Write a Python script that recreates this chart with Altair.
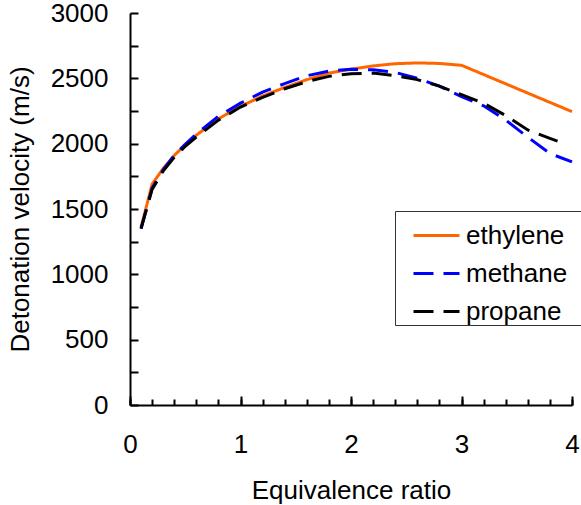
import altair as alt
import pandas as pd

# Equivalence ratio sample points
phi_ethylene = [0.1, 0.2, 0.3, 0.4, 0.5, 0.6, 0.8, 1.0, 1.2, 1.4, 1.6, 1.8, 2.0, 2.2, 2.4, 2.6, 2.8, 3.0, 4.0]
v_ethylene = [1360, 1690, 1810, 1910, 1990, 2065, 2190, 2285, 2365, 2430, 2490, 2540, 2570, 2595, 2612, 2618, 2614, 2600, 2245]

phi_methane = [0.1, 0.2, 0.3, 0.4, 0.5, 0.6, 0.8, 1.0, 1.2, 1.4, 1.6, 1.8, 2.0, 2.2, 2.4, 2.6, 2.8, 3.0, 3.2, 3.4, 3.6, 3.8, 4.0]
v_methane = [1350, 1660, 1800, 1910, 1995, 2075, 2210, 2310, 2395, 2460, 2520, 2555, 2570, 2565, 2545, 2500, 2440, 2360, 2290, 2180, 2050, 1925, 1860]

phi_propane = [0.1, 0.2, 0.3, 0.4, 0.5, 0.6, 0.8, 1.0, 1.2, 1.4, 1.6, 1.8, 2.0, 2.2, 2.4, 2.6, 2.8, 3.0, 3.2, 3.4, 3.6, 3.8, 3.9]
v_propane = [1350, 1650, 1790, 1895, 1980, 2050, 2180, 2280, 2355, 2420, 2475, 2515, 2535, 2540, 2520, 2490, 2440, 2375, 2310, 2215, 2105, 2040, 2010]

fuels = ["ethylene", "methane", "propane"]
colors = ["#FF6600", "#0000FF", "#000000"]
dashes = [[1, 0], [20, 10], [20, 10]]

y_ticks = list(range(0, 3001, 500))
y_minor = list(range(0, 3001, 250))
x_major = [0, 1, 2, 3, 4]
x_minor = [round(i * 0.2, 1) for i in range(21)]

rows = []
for name, xs, vs in [("ethylene", phi_ethylene, v_ethylene),
                     ("methane", phi_methane, v_methane),
                     ("propane", phi_propane, v_propane)]:
    for i, (p, v) in enumerate(zip(xs, vs)):
        rows.append({"phi": p, "v": v, "fuel": name, "order": i})
df = pd.DataFrame(rows)

W, H = 442, 392
FONT = "Liberation Sans"
FS = 26

xscale = alt.Scale(domain=[0, 4], nice=False)
yscale = alt.Scale(domain=[0, 3000], nice=False)

# blank (non-whitespace) padding so the legend frame runs past the right edge
PAD = "\u2800" * 8

legend_kw = dict(
    title=None, orient="none", legendX=265, legendY=198,
    symbolType="stroke", symbolSize=2116, symbolStrokeWidth=3,
    symbolOffset=17, labelFontSize=FS, labelFont=FONT, labelColor="black",
    labelOffset=5, padding=0, rowPadding=-3,
    labelExpr="datum.label + '" + PAD + "'",
    labelLimit=400,
    strokeColor="#333333", fillColor="white",
)

lines = alt.Chart(df).mark_line(strokeWidth=3).encode(
    x=alt.X("phi:Q", scale=xscale,
            axis=alt.Axis(title="Equivalence ratio", values=x_major, format="d",
                          ticks=False, tickSize=0, labelPadding=26, titlePadding=20,
                          labelFlush=False,
                          grid=False, domainColor="black", domainWidth=2)),
    y=alt.Y("v:Q", scale=yscale,
            axis=alt.Axis(title="Detonation velocity (m/s)", values=y_ticks, format="d",
                          ticks=False, tickSize=0, labelPadding=22, titlePadding=17,
                          labelFlush=False,
                          grid=False, domainColor="black", domainWidth=2)),
    color=alt.Color("fuel:N", scale=alt.Scale(domain=fuels, range=colors),
                    legend=alt.Legend(**legend_kw)),
    strokeDash=alt.StrokeDash("fuel:N", scale=alt.Scale(domain=fuels, range=dashes),
                              legend=alt.Legend(**legend_kw)),
    order="order:Q",
)

ytick_layer = alt.Chart(df).mark_point(opacity=0).encode(
    x=alt.X("phi:Q", scale=xscale, axis=None),
    y=alt.Y("v:Q", scale=yscale,
            axis=alt.Axis(orient="right", offset=-W, values=y_minor, labels=False,
                          domain=False, tickSize=8, tickWidth=2, tickColor="black",
                          title=None, grid=False)),
)

xminor_layer = alt.Chart(df).mark_point(opacity=0).encode(
    x=alt.X("phi:Q", scale=xscale,
            axis=alt.Axis(orient="top", offset=-H, values=x_minor, labels=False,
                          domain=False, tickSize=6, tickWidth=2, tickColor="black",
                          title=None, grid=False)),
    y=alt.Y("v:Q", scale=yscale, axis=None),
)

xmajor_layer = alt.Chart(df).mark_point(opacity=0).encode(
    x=alt.X("phi:Q", scale=xscale,
            axis=alt.Axis(orient="top", offset=-H, values=x_major, labels=False,
                          domain=False, tickSize=9, tickWidth=2, tickColor="black",
                          title=None, grid=False)),
    y=alt.Y("v:Q", scale=yscale, axis=None),
)

chart = alt.layer(lines, ytick_layer, xminor_layer, xmajor_layer).resolve_axis(
    x="independent", y="independent"
).properties(
    width=W, height=H,
    autosize=alt.AutoSizeParams(type="none"),
    padding={"left": 130, "top": 13, "right": 9, "bottom": 100},
).configure_view(
    stroke=None
).configure_axis(
    labelFont=FONT, titleFont=FONT, labelFontSize=FS, titleFontSize=FS,
    labelColor="black", titleColor="black", titleFontWeight="normal",
)

chart.save("out.html", embed_options={"renderer": "svg", "actions": False})
